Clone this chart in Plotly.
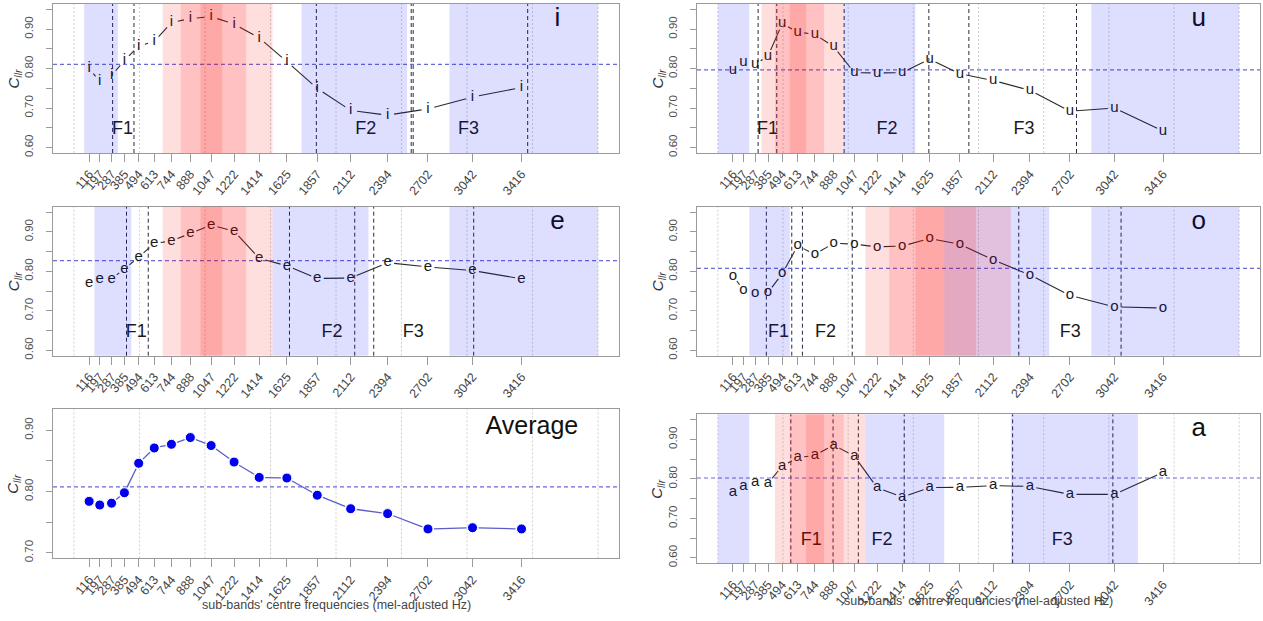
import plotly.graph_objects as go

W, H = 1263, 621
FONT = "Liberation Sans, Arial, Helvetica, sans-serif"

# ---------------- data ----------------
CENTRES = [116, 197, 287, 385, 494, 613, 744, 888, 1047, 1222, 1414, 1625, 1857, 2112, 2394, 2702, 3042, 3416]
TICK_LABELS = [str(c) for c in CENTRES]
GRID_HZ = [0, 500, 1000, 1500, 2000, 2500, 3000, 3500, 4000]
X_RANGE = [-160, 4160]

VOWEL_YRANGE = [0.586, 0.964]
VOWEL_YTICKS = [0.60, 0.70, 0.80, 0.90]
VOWEL_YMINOR = [0.65, 0.75, 0.85, 0.95]
AVG_YRANGE = [0.691, 0.934]
AVG_YTICKS = [0.70, 0.80, 0.90]
AVG_YMINOR = [0.75, 0.85]

I_VALUES = [0.800, 0.768, 0.782, 0.821, 0.857, 0.869, 0.917, 0.927, 0.932, 0.913, 0.878, 0.818, 0.750, 0.694, 0.682, 0.698, 0.728, 0.752]
U_VALUES = [0.797, 0.816, 0.811, 0.832, 0.914, 0.893, 0.887, 0.856, 0.790, 0.789, 0.790, 0.824, 0.787, 0.770, 0.745, 0.692, 0.700, 0.642]
E_VALUES = [0.769, 0.781, 0.781, 0.806, 0.836, 0.871, 0.877, 0.896, 0.917, 0.902, 0.833, 0.814, 0.782, 0.783, 0.822, 0.811, 0.802, 0.781]
O_VALUES = [0.788, 0.753, 0.744, 0.746, 0.794, 0.865, 0.843, 0.871, 0.869, 0.862, 0.864, 0.883, 0.869, 0.829, 0.791, 0.739, 0.710, 0.707]
A_VALUES = [0.767, 0.781, 0.792, 0.789, 0.833, 0.854, 0.860, 0.886, 0.858, 0.778, 0.754, 0.778, 0.779, 0.783, 0.781, 0.761, 0.761, 0.817]
AVG_VALUES = [0.784, 0.778, 0.781, 0.798, 0.846, 0.871, 0.877, 0.888, 0.875, 0.848, 0.823, 0.822, 0.794, 0.772, 0.764, 0.739, 0.741, 0.739]

I_REF, U_REF, E_REF, O_REF, A_REF, AVG_REF = 0.811, 0.797, 0.827, 0.8075, 0.8025, 0.8075

I_BLUE = [(78, 335), (1737, 2543), (2866, 4000)]
I_RED = [(677, 1516), (815, 1315), (966, 1132)]
I_FORMANTS = [295, 458, 1850, 2574, 2589, 3463]
I_F_X = [371, 2227, 3012]

U_BLUE = [(0, 241), (966, 1516), (2866, 4000)]
U_RED = [(335, 966), (438, 815), (552, 677)]
U_FORMANTS = [309, 452, 969, 1619, 1926, 2752]
U_F_X = [381, 1298, 2350]

E_BLUE = [(156, 438), (1516, 2248), (2866, 4000)]
E_RED = [(677, 1516), (815, 1315), (966, 1132)]
E_FORMANTS = [401, 567, 1645, 2143, 2288, 3051]
E_F_X = [476, 1970, 2589]

O_BLUE = [(241, 552), (1737, 2543), (2866, 4000)]
O_RED = [(1132, 2248), (1315, 1981), (1516, 1737)]
O_FORMANTS = [372, 567, 649, 1031, 2309, 3094]
O_F_X = [466, 827, 2705]

A_BLUE = [(0, 241), (1132, 1737), (2248, 3223)]
A_RED = [(438, 1132), (552, 966), (677, 815)]
A_FORMANTS = [560, 884, 1078, 1430, 2262, 3031]
A_F_X = [717, 1260, 2642]

F_NAMES = ["F1", "F2", "F3"]
LABEL_X, LABEL_Y = 3690, 0.925
F_LABEL_Y = 0.645
AVG_LABEL_X, AVG_LABEL_Y = 3495, 0.904
X_TITLE = "sub-bands' centre frequencies (mel-adjusted Hz)"

# ---------------- layout geometry (pixels: left, right, top, bottom) ----------------
LEFT_COL = (53, 619)
RIGHT_COL = (697, 1260)

panels = [
    dict(letter="i", vals=I_VALUES, ref=I_REF, blue=I_BLUE, red=I_RED, form=I_FORMANTS, fx=I_F_X,
         box=(LEFT_COL[0], LEFT_COL[1], 4, 154)),
    dict(letter="u", vals=U_VALUES, ref=U_REF, blue=U_BLUE, red=U_RED, form=U_FORMANTS, fx=U_F_X,
         box=(RIGHT_COL[0], RIGHT_COL[1], 4, 154)),
    dict(letter="e", vals=E_VALUES, ref=E_REF, blue=E_BLUE, red=E_RED, form=E_FORMANTS, fx=E_F_X,
         box=(LEFT_COL[0], LEFT_COL[1], 208, 358)),
    dict(letter="o", vals=O_VALUES, ref=O_REF, blue=O_BLUE, red=O_RED, form=O_FORMANTS, fx=O_F_X,
         box=(RIGHT_COL[0], RIGHT_COL[1], 208, 358)),
    dict(letter=None, vals=AVG_VALUES, ref=AVG_REF, blue=[], red=[], form=[], fx=[],
         box=(LEFT_COL[0], LEFT_COL[1], 412, 562)),
    dict(letter="a", vals=A_VALUES, ref=A_REF, blue=A_BLUE, red=A_RED, form=A_FORMANTS, fx=A_F_X,
         box=(RIGHT_COL[0], RIGHT_COL[1], 417, 567)),
]


def gapped(xs, ys, sx, sy, gap):
    X, Y = [], []
    for i in range(len(xs) - 1):
        dx = (xs[i + 1] - xs[i]) * sx
        dy = (ys[i + 1] - ys[i]) * sy
        L = (dx * dx + dy * dy) ** 0.5
        if L <= 2 * gap:
            continue
        f = gap / L
        X += [xs[i] + (xs[i + 1] - xs[i]) * f, xs[i + 1] - (xs[i + 1] - xs[i]) * f, None]
        Y += [ys[i] + (ys[i + 1] - ys[i]) * f, ys[i + 1] - (ys[i + 1] - ys[i]) * f, None]
    return X, Y


fig = go.Figure()
shapes = []
annotations = []
layout_axes = {}

BLUE_FILL = "rgba(0,0,255,0.13)"
RED_FILL = "rgba(255,0,0,0.13)"
AXIS_GREY = "#9a9a9a"
TICK_FONT = dict(family=FONT, size=12.5, color="#444444")

for k, p in enumerate(panels, start=1):
    xid = "x" if k == 1 else f"x{k}"
    yid = "y" if k == 1 else f"y{k}"
    xname = "xaxis" if k == 1 else f"xaxis{k}"
    yname = "yaxis" if k == 1 else f"yaxis{k}"
    l, r, t, b = p["box"]
    is_avg = p["letter"] is None
    yr = AVG_YRANGE if is_avg else VOWEL_YRANGE
    yt = AVG_YTICKS if is_avg else VOWEL_YTICKS
    ym = AVG_YMINOR if is_avg else VOWEL_YMINOR

    layout_axes[xname] = dict(
        domain=[l / W, r / W], anchor=yid, range=X_RANGE,
        tickmode="array", tickvals=CENTRES, ticktext=TICK_LABELS, tickangle=-50,
        ticks="outside", ticklen=8, tickcolor=AXIS_GREY, tickwidth=1,
        showline=True, mirror=True, linecolor=AXIS_GREY, linewidth=1,
        showgrid=False, zeroline=False, tickfont=TICK_FONT, ticklabelstandoff=0,
    )
    layout_axes[yname] = dict(
        domain=[1 - b / H, 1 - t / H], anchor=xid, range=yr,
        tickmode="array", tickvals=yt, ticktext=[f"{v:.2f}" for v in yt],
        minor=dict(tickmode="array", tickvals=ym, ticks="outside", ticklen=6,
                   tickcolor=AXIS_GREY, tickwidth=1, showgrid=False),
        tickangle=-90, ticks="outside", ticklen=6, tickcolor=AXIS_GREY, tickwidth=1,
        showline=True, mirror=True, linecolor=AXIS_GREY, linewidth=1,
        showgrid=False, zeroline=False, tickfont=dict(family=FONT, size=11.5, color="#505050"),
        ticklabelstandoff=8,
    )

    # grid (light dotted)
    for g in GRID_HZ:
        shapes.append(dict(type="line", xref=xid, yref=f"{yid} domain", x0=g, x1=g, y0=0, y1=1,
                           line=dict(color="#d0d0d0", width=1, dash="2px,2px"), layer="below"))
    # formant dashed lines
    for fhz in p["form"]:
        shapes.append(dict(type="line", xref=xid, yref=f"{yid} domain", x0=fhz, x1=fhz, y0=0, y1=1,
                           line=dict(color="#2a2a40", width=1, dash="4px,3px"), layer="below"))
    # reference horizontal line
    shapes.append(dict(type="line", xref=f"{xid} domain", yref=yid, x0=0, x1=1, y0=p["ref"], y1=p["ref"],
                       line=dict(color="#6a6ad8", width=1.2, dash="4px,3px"), layer="below"))

    sx = (r - l) / (X_RANGE[1] - X_RANGE[0])
    sy = (b - t) / (yr[1] - yr[0])

    if is_avg:
        lx, ly = gapped(CENTRES, p["vals"], sx, sy, 6)
        fig.add_trace(go.Scatter(x=lx, y=ly, mode="lines", xaxis=xid, yaxis=yid,
                                 line=dict(color="#5c5cc8", width=1.3), hoverinfo="skip", showlegend=False))
        fig.add_trace(go.Scatter(x=CENTRES, y=p["vals"], mode="markers", xaxis=xid, yaxis=yid,
                                 marker=dict(color="#0000ee", size=10, line=dict(color="white", width=1)),
                                 showlegend=False))
        fig.add_trace(go.Scatter(x=[AVG_LABEL_X], y=[AVG_LABEL_Y], mode="text", text=["Average"],
                                 xaxis=xid, yaxis=yid, textfont=dict(family=FONT, size=25, color="#111"),
                                 textposition="middle center", showlegend=False, hoverinfo="skip"))
    else:
        lx, ly = gapped(CENTRES, p["vals"], sx, sy, 6.5)
        fig.add_trace(go.Scatter(x=lx, y=ly, mode="lines", xaxis=xid, yaxis=yid,
                                 line=dict(color="#2b2b2b", width=1.1), hoverinfo="skip", showlegend=False))
        fig.add_trace(go.Scatter(x=CENTRES, y=p["vals"], mode="text", text=[p["letter"]] * len(CENTRES),
                                 xaxis=xid, yaxis=yid, textposition="middle center",
                                 textfont=dict(family=FONT, size=15, color="#1a1a1a"), showlegend=False))
        fig.add_trace(go.Scatter(x=p["fx"], y=[F_LABEL_Y] * len(p["fx"]), mode="text", text=F_NAMES,
                                 xaxis=xid, yaxis=yid, textposition="middle center",
                                 textfont=dict(family=FONT, size=18, color="#1a1a1a"),
                                 showlegend=False, hoverinfo="skip"))
        fig.add_trace(go.Scatter(x=[LABEL_X], y=[LABEL_Y], mode="text", text=[p["letter"]],
                                 xaxis=xid, yaxis=yid, textposition="middle center",
                                 textfont=dict(family=FONT, size=26, color="#111"),
                                 showlegend=False, hoverinfo="skip"))

    # shading on top (semi-transparent)
    for (a0, a1) in p["blue"]:
        shapes.append(dict(type="rect", xref=xid, yref=f"{yid} domain", x0=a0, x1=a1, y0=0, y1=1,
                           fillcolor=BLUE_FILL, line=dict(width=0), layer="above"))
    for (a0, a1) in p["red"]:
        shapes.append(dict(type="rect", xref=xid, yref=f"{yid} domain", x0=a0, x1=a1, y0=0, y1=1,
                           fillcolor=RED_FILL, line=dict(width=0), layer="above"))

    # y-axis title
    annotations.append(dict(text="<i>C</i><sub><i>llr</i></sub>", xref="paper", yref="paper",
                            x=(l - 39) / W, y=1 - (t + b) / 2 / H, xanchor="center", yanchor="middle",
                            textangle=-90, showarrow=False, font=dict(family=FONT, size=15, color="#333")))

# x-axis titles under the bottom panels
annotations.append(dict(text=X_TITLE, xref="paper", yref="paper", x=(LEFT_COL[0] + LEFT_COL[1]) / 2 / W,
                        y=1 - 609 / H, xanchor="center", yanchor="middle", showarrow=False,
                        font=dict(family=FONT, size=12.5, color="#444")))
annotations.append(dict(text=X_TITLE, xref="paper", yref="paper", x=(RIGHT_COL[0] + RIGHT_COL[1]) / 2 / W,
                        y=1 - 605 / H, xanchor="center", yanchor="middle", showarrow=False,
                        font=dict(family=FONT, size=12.5, color="#444")))

fig.update_layout(
    width=W, height=H, margin=dict(l=0, r=0, t=0, b=0),
    paper_bgcolor="white", plot_bgcolor="white",
    shapes=shapes, annotations=annotations, showlegend=False,
    font=dict(family=FONT), hovermode=False,
    **layout_axes,
)

fig.write_html("out.html", config={"displayModeBar": False, "staticPlot": True},
               post_script="document.body.style.margin='0';document.body.style.overflow='hidden';")
